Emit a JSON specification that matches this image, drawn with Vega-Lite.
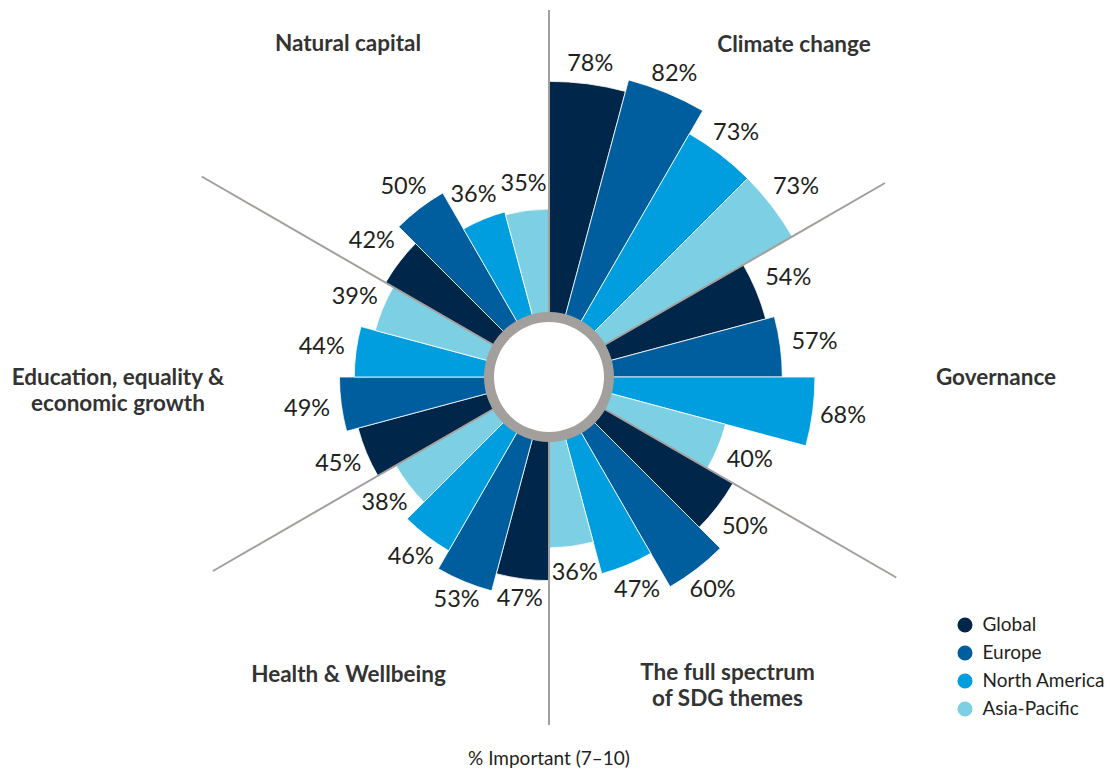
{
  "$schema": "https://vega.github.io/schema/vega-lite/v6.json",
  "autosize": {"type": "none"},
  "width": 1098,
  "height": 754,
  "padding": {"left": 0, "top": 0, "right": 12, "bottom": 18},
  "background": "white",
  "config": {"view": {"stroke": null}, "font": "Lato"},
  "title": {"text": "% Important (7–10)", "orient": "bottom", "anchor": "middle", "offset": -4, "fontSize": 19, "fontWeight": "normal", "font": "Lato", "color": "#231f20"},
  "data": {"values": [
    {"theme": "Climate change", "region": "Global", "v": 0.78},
    {"theme": "Climate change", "region": "Europe", "v": 0.82},
    {"theme": "Climate change", "region": "North America", "v": 0.73},
    {"theme": "Climate change", "region": "Asia-Pacific", "v": 0.73},
    {"theme": "Governance", "region": "Global", "v": 0.54},
    {"theme": "Governance", "region": "Europe", "v": 0.57},
    {"theme": "Governance", "region": "North America", "v": 0.68},
    {"theme": "Governance", "region": "Asia-Pacific", "v": 0.40},
    {"theme": "The full spectrum\nof SDG themes", "region": "Global", "v": 0.50},
    {"theme": "The full spectrum\nof SDG themes", "region": "Europe", "v": 0.60},
    {"theme": "The full spectrum\nof SDG themes", "region": "North America", "v": 0.47},
    {"theme": "The full spectrum\nof SDG themes", "region": "Asia-Pacific", "v": 0.36},
    {"theme": "Health & Wellbeing", "region": "Global", "v": 0.47},
    {"theme": "Health & Wellbeing", "region": "Europe", "v": 0.53},
    {"theme": "Health & Wellbeing", "region": "North America", "v": 0.46},
    {"theme": "Health & Wellbeing", "region": "Asia-Pacific", "v": 0.38},
    {"theme": "Education, equality &\neconomic growth", "region": "Global", "v": 0.45},
    {"theme": "Education, equality &\neconomic growth", "region": "Europe", "v": 0.49},
    {"theme": "Education, equality &\neconomic growth", "region": "North America", "v": 0.44},
    {"theme": "Education, equality &\neconomic growth", "region": "Asia-Pacific", "v": 0.39},
    {"theme": "Natural capital", "region": "Global", "v": 0.42},
    {"theme": "Natural capital", "region": "Europe", "v": 0.50},
    {"theme": "Natural capital", "region": "North America", "v": 0.36},
    {"theme": "Natural capital", "region": "Asia-Pacific", "v": 0.35}
  ]},
  "transform": [
    {"window": [{"op": "count", "as": "a0"}], "frame": [null, -1]},
    {"window": [{"op": "count", "as": "a1"}], "frame": [null, 0]}
  ],
  "layer": [
    {
      "mark": {"type": "arc", "stroke": "white", "strokeWidth": 0.8},
      "encoding": {
        "theta": {"field": "a0", "type": "quantitative", "stack": null, "scale": {"domain": [0, 24]}},
        "theta2": {"field": "a1"},
        "radius": {"field": "v", "type": "quantitative", "scale": {"type": "linear", "domain": [0, 1], "range": [64, 361], "zero": false}},
        "radius2": {"value": 58},
        "color": {"field": "region", "type": "nominal",
          "scale": {"domain": ["Global", "Europe", "North America", "Asia-Pacific"], "range": ["#002649", "#005e9e", "#009ede", "#7dcfe3"]},
          "legend": {"orient": "none", "legendX": 955.5, "legendY": 615.5, "title": null, "symbolType": "circle", "symbolSize": 227, "symbolStrokeWidth": 0, "symbolOpacity": 1, "labelFontSize": 19, "labelFont": "Lato", "labelColor": "#231f20", "labelOffset": 8, "rowPadding": 8, "padding": 0}
        }
      }
    },
    {
      "transform": [{"filter": {"field": "a0", "oneOf": [4, 16]}}],
      "mark": {"type": "arc", "filled": false, "stroke": "#a39f9c", "strokeWidth": 2},
      "encoding": {
        "theta": {"field": "a0", "type": "quantitative", "stack": null, "scale": {"domain": [0, 24]}},
        "theta2": {"field": "a0"},
        "radius": {"value": 388},
        "radius2": {"value": 58}
      }
    },
    {
      "transform": [{"filter": {"field": "a0", "oneOf": [8, 20]}}],
      "mark": {"type": "arc", "filled": false, "stroke": "#a39f9c", "strokeWidth": 2},
      "encoding": {
        "theta": {"field": "a0", "type": "quantitative", "stack": null, "scale": {"domain": [0, 24]}},
        "theta2": {"field": "a0"},
        "radius": {"value": 401},
        "radius2": {"value": 58}
      }
    },
    {
      "transform": [{"filter": {"field": "a0", "equal": 0}}],
      "mark": {"type": "arc", "filled": false, "stroke": "#a39f9c", "strokeWidth": 2},
      "encoding": {
        "theta": {"field": "a0", "type": "quantitative", "stack": null, "scale": {"domain": [0, 24]}},
        "theta2": {"field": "a0"},
        "radius": {"value": 367},
        "radius2": {"value": 58}
      }
    },
    {
      "transform": [{"filter": {"field": "a0", "equal": 12}}],
      "mark": {"type": "arc", "filled": false, "stroke": "#a39f9c", "strokeWidth": 2},
      "encoding": {
        "theta": {"field": "a0", "type": "quantitative", "stack": null, "scale": {"domain": [0, 24]}},
        "theta2": {"field": "a0"},
        "radius": {"value": 348},
        "radius2": {"value": 58}
      }
    },
    {
      "mark": {"type": "arc", "fill": "#a39f9c"},
      "encoding": {
        "theta": {"field": "a0", "aggregate": "min", "type": "quantitative", "stack": null, "scale": {"domain": [0, 24]}},
        "theta2": {"field": "a1", "aggregate": "max"},
        "radius": {"value": 65},
        "radius2": {"value": 55}
      }
    },
    {
      "transform": [{"filter": {"field": "a0", "oneOf": [0, 1, 12, 13]}}],
      "mark": {"type": "text", "radiusOffset": 20, "fontSize": 23.5, "font": "Lato", "color": "#231f20"},
      "encoding": {
        "theta": {"field": "a1", "type": "quantitative", "stack": null, "scale": {"domain": [0.5, 24.5]}},
        "radius": {"field": "v", "type": "quantitative", "scale": {"type": "linear", "domain": [0, 1], "range": [64, 361], "zero": false}},
        "text": {"field": "v", "type": "quantitative", "format": ".0%"}
      }
    },
    {
      "transform": [{"filter": {"field": "a0", "oneOf": [2, 9, 10, 11, 14, 21, 22, 23]}}],
      "mark": {"type": "text", "radiusOffset": 26.5, "fontSize": 23.5, "font": "Lato", "color": "#231f20"},
      "encoding": {
        "theta": {"field": "a1", "type": "quantitative", "stack": null, "scale": {"domain": [0.5, 24.5]}},
        "radius": {"field": "v", "type": "quantitative", "scale": {"type": "linear", "domain": [0, 1], "range": [64, 361], "zero": false}},
        "text": {"field": "v", "type": "quantitative", "format": ".0%"}
      }
    },
    {
      "transform": [{"filter": {"field": "a0", "oneOf": [3, 6, 15, 16, 19]}}],
      "mark": {"type": "text", "radiusOffset": 30.5, "fontSize": 23.5, "font": "Lato", "color": "#231f20"},
      "encoding": {
        "theta": {"field": "a1", "type": "quantitative", "stack": null, "scale": {"domain": [0.5, 24.5]}},
        "radius": {"field": "v", "type": "quantitative", "scale": {"type": "linear", "domain": [0, 1], "range": [64, 361], "zero": false}},
        "text": {"field": "v", "type": "quantitative", "format": ".0%"}
      }
    },
    {
      "transform": [{"filter": {"field": "a0", "oneOf": [4, 5, 7, 8, 17, 18, 20]}}],
      "mark": {"type": "text", "radiusOffset": 34.5, "fontSize": 23.5, "font": "Lato", "color": "#231f20"},
      "encoding": {
        "theta": {"field": "a1", "type": "quantitative", "stack": null, "scale": {"domain": [0.5, 24.5]}},
        "radius": {"field": "v", "type": "quantitative", "scale": {"type": "linear", "domain": [0, 1], "range": [64, 361], "zero": false}},
        "text": {"field": "v", "type": "quantitative", "format": ".0%"}
      }
    },
    {
      "transform": [{"filter": {"field": "a0", "equal": 0}}],
      "mark": {"type": "text", "fontSize": 22.5, "fontWeight": "bold", "font": "Lato", "color": "#333333", "lineBreak": "\n", "dx": 55, "dy": -3},
      "encoding": {
        "theta": {"field": "a0", "type": "quantitative", "stack": null, "scale": {"domain": [-2, 22]}},
        "radius": {"value": 380},
        "text": {"field": "theme"}
      }
    },
    {
      "transform": [{"filter": {"field": "a0", "equal": 4}}],
      "mark": {"type": "text", "fontSize": 22.5, "fontWeight": "bold", "font": "Lato", "color": "#333333", "lineBreak": "\n", "dy": 1},
      "encoding": {
        "theta": {"field": "a0", "type": "quantitative", "stack": null, "scale": {"domain": [-2, 22]}},
        "radius": {"value": 447},
        "text": {"field": "theme"}
      }
    },
    {
      "transform": [{"filter": {"field": "a0", "equal": 8}}],
      "mark": {"type": "text", "fontSize": 22.5, "fontWeight": "bold", "font": "Lato", "color": "#333333", "lineBreak": "\n", "lineHeight": 26, "dy": -13},
      "encoding": {
        "theta": {"field": "a0", "type": "quantitative", "stack": null, "scale": {"domain": [-2, 22]}},
        "radius": {"value": 357},
        "text": {"field": "theme"}
      }
    },
    {
      "transform": [{"filter": {"field": "a0", "equal": 12}}],
      "mark": {"type": "text", "fontSize": 22.5, "fontWeight": "bold", "font": "Lato", "color": "#333333", "lineBreak": "\n", "dx": -22, "dy": -11},
      "encoding": {
        "theta": {"field": "a0", "type": "quantitative", "stack": null, "scale": {"domain": [-2, 22]}},
        "radius": {"value": 357},
        "text": {"field": "theme"}
      }
    },
    {
      "transform": [{"filter": {"field": "a0", "equal": 16}}],
      "mark": {"type": "text", "fontSize": 22.5, "fontWeight": "bold", "font": "Lato", "color": "#333333", "lineBreak": "\n", "lineHeight": 26, "dy": 1},
      "encoding": {
        "theta": {"field": "a0", "type": "quantitative", "stack": null, "scale": {"domain": [-2, 22]}},
        "radius": {"value": 431},
        "text": {"field": "theme"}
      }
    },
    {
      "transform": [{"filter": {"field": "a0", "equal": 20}}],
      "mark": {"type": "text", "fontSize": 22.5, "fontWeight": "bold", "font": "Lato", "color": "#333333", "lineBreak": "\n", "dx": -11, "dy": -4},
      "encoding": {
        "theta": {"field": "a0", "type": "quantitative", "stack": null, "scale": {"domain": [-2, 22]}},
        "radius": {"value": 380},
        "text": {"field": "theme"}
      }
    }
  ],
  "resolve": {"scale": {"theta": "independent"}}
}
